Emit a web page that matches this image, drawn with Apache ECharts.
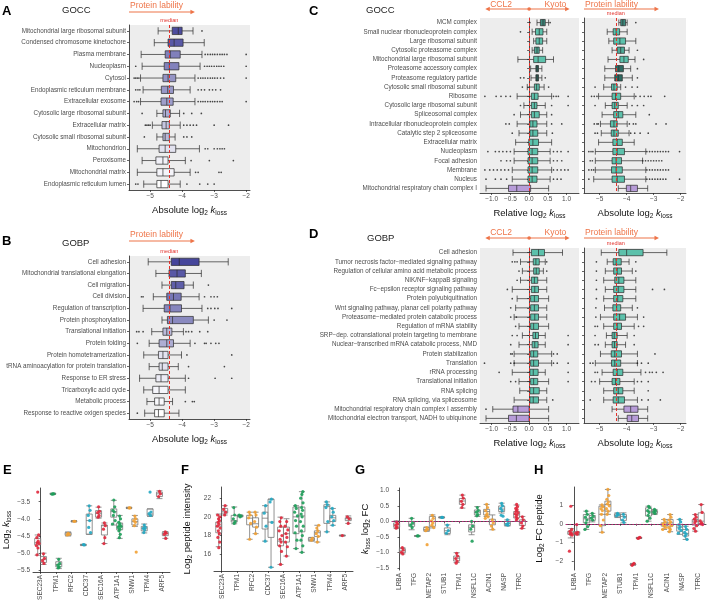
<!DOCTYPE html>
<html><head><meta charset="utf-8">
<script src="https://cdn.jsdelivr.net/npm/echarts/dist/echarts.min.js"></script>
<style>html,body{margin:0;padding:0;background:#fff}#c{width:708px;height:605px}</style>
</head><body><div id="c"></div>
<script>
// ---------------- DATA ----------------
const A_cats = ['Mitochondrial large ribosomal subunit','Condensed chromosome kinetochore','Plasma membrane','Nucleoplasm','Cytosol','Endoplasmic reticulum membrane','Extracellular exosome','Cytosolic large ribosomal subunit','Extracellular matrix','Cytosolic small ribosomal subunit','Mitochondrion','Peroxisome','Mitochondrial matrix','Endoplasmic reticulum lumen'];
const A_box = [[-4.75,-4.31,-4.12,-4.0,-3.66],[-4.87,-4.44,-4.25,-3.97,-3.31],[-5.28,-4.53,-4.37,-4.06,-3.38],[-5.25,-4.56,-4.4,-4.1,-3.44],[-5.3,-4.6,-4.44,-4.2,-3.6],[-5.22,-4.65,-4.45,-4.27,-3.75],[-5.3,-4.66,-4.48,-4.28,-3.6],[-4.79,-4.6,-4.52,-4.37,-4.08],[-4.93,-4.63,-4.5,-4.4,-4.06],[-4.79,-4.6,-4.53,-4.4,-4.22],[-5.4,-4.72,-4.53,-4.2,-3.46],[-5.25,-4.82,-4.6,-4.44,-3.9],[-5.4,-4.79,-4.6,-4.25,-3.75],[-5.2,-4.79,-4.66,-4.44,-4.06]];
const A_out = [[-3.38],[],[-3.28,-3.2,-3.12,-3.05,-2.98,-2.9,-2.82,-2.75,-2.68,-2.6,-2.0],[-5.45,-3.3,-3.22,-3.15,-3.08,-3.0,-2.92,-2.85,-2.78,-2.7,-2.0],[-5.5,-5.45,-5.4,-5.35,-3.5,-3.42,-3.35,-3.28,-3.2,-3.12,-3.05,-2.98,-2.9,-2.8,-2.7,-2.0],[-5.45,-5.38,-5.32,-3.5,-3.4,-3.3,-3.15,-3.05,-2.95,-2.8],[-5.5,-5.42,-5.36,-3.5,-3.42,-3.35,-3.28,-3.2,-3.12,-3.05,-2.98,-2.9,-2.82,-2.75,-2.0],[-5.25,-3.95,-3.7,-3.4],[-5.15,-5.1,-5.05,-5.0,-3.95,-3.85,-3.75,-3.65,-3.55,-3.0,-2.55],[-5.18,-3.95,-3.85,-3.7],[-3.28,-3.2,-3.0,-2.9,-2.82,-2.75,-2.68],[-3.72,-3.15,-2.4],[-3.58,-3.5,-2.85,-2.78],[-5.45,-5.38,-3.85,-3.45,-3.2,-3.0]];

const B_cats = ['Cell adhesion','Mitochondrial translational elongation','Cell migration','Cell division','Regulation of transcription','Protein phosphorylation','Translational initiation','Protein folding','Protein homotetramerization','tRNA aminoacylation for protein translation','Response to ER stress','Tricarboxylic acid cycle','Metabolic process','Response to reactive oxigen species'];
const B_box = [[-5.06,-4.34,-4.09,-3.47,-2.56],[-4.82,-4.41,-4.16,-3.9,-3.4],[-4.63,-4.34,-4.2,-3.94,-3.65],[-4.9,-4.48,-4.27,-4.03,-3.47],[-5.22,-4.56,-4.38,-4.02,-3.38],[-4.63,-4.46,-4.3,-3.65,-3.18],[-4.95,-4.6,-4.48,-4.32,-3.96],[-5.03,-4.72,-4.48,-4.27,-3.75],[-5.2,-4.74,-4.6,-4.44,-4.02],[-5.03,-4.72,-4.62,-4.44,-4.12],[-5.33,-4.82,-4.66,-4.44,-3.9],[-5.2,-4.92,-4.72,-4.44,-3.9],[-5.1,-4.86,-4.72,-4.56,-4.3],[-5.17,-4.86,-4.74,-4.56,-4.1]];
const B_out = [[],[],[-3.18],[-5.27,-5.22,-3.3,-3.1,-3.0,-2.9],[-3.2,-3.1,-2.98,-2.88,-2.45],[-3.0,-2.6],[-5.42,-5.35,-5.22,-3.88,-3.8,-3.7,-3.45,-3.2],[-5.4,-3.6,-3.3,-3.25,-3.1,-2.95,-2.85],[-3.85,-2.45],[-3.8,-2.68],[-3.8,-2.97,-2.45],[],[-3.9,-3.68,-3.62],[-5.4]];

const C_cats = ['MCM complex','Small nuclear ribonucleoprotein complex','Large ribosomal subunit','Cytosolic proteasome complex','Mitochondrial large ribosomal subunit','Proteasome accessory complex','Proteasome regulatory particle','Cytosolic small ribosomal subunit','Ribosome','Cytosolic large ribosomal subunit','Spliceosomal complex','Intracellular ribonucleoprotein complex','Catalytic step 2 spliceosome','Extracellular matrix','Nucleoplasm','Focal adhesion','Membrane','Nucleus','Mitochondrial respiratory chain complex I'];
const C_rel = [[0.21,0.30,0.37,0.43,0.52],[0.08,0.17,0.27,0.37,0.47],[0.12,0.18,0.27,0.36,0.47],[0.08,0.14,0.21,0.27,0.36],[-0.3,0.12,0.24,0.44,0.65],[0.04,0.18,0.21,0.25,0.34],[0.05,0.18,0.21,0.25,0.34],[-0.05,0.14,0.2,0.27,0.4],[-0.32,0.06,0.14,0.24,0.6],[-0.14,0.06,0.14,0.21,0.43],[-0.23,0.06,0.14,0.27,0.47],[-0.32,0.02,0.1,0.21,0.47],[-0.27,0.02,0.1,0.23,0.47],[-0.36,-0.01,0.1,0.25,0.6],[-0.4,-0.03,0.08,0.23,0.56],[-0.4,-0.03,0.08,0.23,0.56],[-0.45,-0.03,0.08,0.23,0.6],[-0.45,-0.03,0.08,0.21,0.56],[-1.15,-0.55,-0.33,0.04,0.52]];
const C_rel_out = [[0.02,0.56],[-0.23],[],[],[],[],[-0.23,-0.14,0.43],[-0.18,0.52],[-1.18,-0.88,-0.75,-0.62,-0.5,0.65,0.72,0.78,1.04],[-0.23,0.6,1.04],[-0.4,0.6],[-0.62,-0.53,0.6,0.87],[-0.45,0.62],[],[-1.1,-0.9,-0.8,-0.7,-0.6,-0.5,0.65,0.75,0.85,1.04],[-0.75,-0.6,-0.5,0.65,0.75,0.87],[-1.18,-1.05,-0.95,-0.85,-0.75,-0.65,-0.55,0.65,0.75,0.85,0.95,1.04],[-1.15,-0.9,-0.75,-0.6,0.65,0.75,0.85],[]];
const C_abs = [[-4.29,-4.22,-4.14,-4.04,-3.98],[-4.72,-4.5,-4.39,-4.26,-3.98],[-4.66,-4.48,-4.25,-4.04,-3.66],[-4.54,-4.35,-4.22,-4.08,-3.91],[-4.69,-4.25,-4.1,-3.94,-3.69],[-4.81,-4.41,-4.29,-4.12,-3.85],[-4.81,-4.44,-4.31,-4.16,-3.79],[-4.85,-4.56,-4.47,-4.35,-4.22],[-5.04,-4.54,-4.41,-4.22,-3.72],[-4.79,-4.54,-4.44,-4.31,-3.98],[-4.91,-4.48,-4.31,-4.14,-3.66],[-4.97,-4.6,-4.47,-4.35,-3.98],[-4.94,-4.57,-4.47,-4.31,-3.91],[-5.04,-4.51,-4.35,-4.16,-3.72],[-5.16,-4.51,-4.35,-4.08,-3.29],[-5.16,-4.54,-4.39,-4.19,-3.41],[-5.16,-4.56,-4.39,-4.16,-3.29],[-5.22,-4.54,-4.35,-4.08,-3.29],[-4.31,-4.01,-3.85,-3.6,-3.22]];
const C_abs_out = [[-3.66],[],[],[-3.6],[-3.37],[-3.6],[-3.6],[-5.17,-4.04,-3.8,-3.6],[-5.3,-5.2,-5.1,-3.66,-3.5,-3.35,-3.2,-3.1,-2.59],[-5.17,-3.8,-3.6,-3.37],[-3.16],[-5.2,-5.1,-5.05,-3.9,-3.75,-3.66,-2.91,-2.54],[-5.17,-5.08,-3.85,-3.7,-3.5,-3.2],[],[-5.4,-5.32,-5.25,-3.25,-3.15,-3.05,-2.95,-2.85,-2.75,-2.65,-2.55,-2.45,-2.04],[-5.35,-5.27,-3.4,-3.3,-3.2,-3.1,-3.0,-2.9,-2.8,-2.7],[-5.4,-5.3,-5.22,-3.25,-3.15,-3.05,-2.95,-2.85,-2.75,-2.65,-2.55,-2.45],[-5.4,-3.25,-3.15,-3.05,-2.95,-2.85,-2.75,-2.65,-2.55,-2.04],[]];

const D_cats = ['Cell adhesion','Tumor necrosis factor\u2212mediated signaling pathway','Regulation of cellular amino acid metabolic process','NIK/NF\u2212kappaB signaling','Fc\u2212epsilon receptor signaling pathway','Protein polyubiquitination','Wnt signaling pathway, planar cell polarity pathway','Proteasome\u2212mediated protein catabolic process','Regulation of mRNA stability','SRP\u2212dep. cotranslational protein targeting to membrane','Nuclear\u2212transcribed mRNA catabolic process, NMD','Protein stabilization','Translation','rRNA processing','Translational initiation','RNA splicing','RNA splicing, via spliceosome','Mitochondrial respiratory chain complex I assembly','Mitochondrial electron transport, NADH to ubiquinone'];
const D_rel = [[-0.43,0.06,0.25,0.41,0.89],[-0.23,0.11,0.18,0.27,0.43],[-0.18,0.12,0.19,0.27,0.38],[-0.23,0.06,0.14,0.23,0.47],[-0.45,0.06,0.15,0.25,0.47],[-0.32,0.04,0.14,0.25,0.52],[-0.36,0.04,0.14,0.25,0.47],[-0.4,0.04,0.15,0.25,0.47],[-0.27,0.04,0.12,0.25,0.52],[-0.18,0.1,0.17,0.25,0.43],[-0.27,0.08,0.15,0.24,0.43],[-0.4,0.04,0.12,0.23,0.6],[-0.4,0.04,0.12,0.25,0.6],[-0.45,0.02,0.11,0.24,0.43],[-0.27,0.04,0.12,0.23,0.52],[-0.25,0.02,0.12,0.27,0.47],[-0.4,0.02,0.11,0.25,0.47],[-0.97,-0.43,-0.3,0.0,0.52],[-1.15,-0.55,-0.34,0.0,0.52]];
const D_rel_out = [[],[-0.45,-0.38,-0.32,0.47],[-0.27,0.47],[-0.32],[-0.58],[-0.45],[-0.49],[-0.49,-0.34],[-0.36],[-0.45,-0.32,1.04],[-0.49,1.04],[-0.49,-0.45,0.65,0.75],[-1.19,-0.49,-0.4,0.65,0.75,1.04],[-0.8,1.04],[-0.49,-0.36,1.04],[],[0.63],[-1.15],[]];
const D_abs = [[-4.94,-4.29,-4.0,-3.39,-2.51],[-4.72,-4.5,-4.39,-4.2,-3.91],[-4.79,-4.48,-4.35,-4.19,-3.79],[-4.85,-4.44,-4.29,-4.1,-3.66],[-4.79,-4.48,-4.31,-4.1,-3.66],[-4.85,-4.48,-4.33,-4.14,-3.66],[-4.82,-4.51,-4.37,-4.22,-3.79],[-4.97,-4.48,-4.26,-4.04,-3.6],[-4.85,-4.48,-4.35,-4.19,-3.72],[-4.75,-4.54,-4.46,-4.35,-3.98],[-4.79,-4.54,-4.45,-4.35,-4.04],[-4.97,-4.57,-4.44,-4.19,-3.6],[-5.16,-4.56,-4.44,-4.22,-3.6],[-4.91,-4.5,-4.35,-4.14,-3.47],[-5.0,-4.54,-4.41,-4.25,-3.72],[-4.85,-4.48,-4.31,-4.14,-3.72],[-4.85,-4.5,-4.31,-4.08,-3.6],[-4.54,-4.1,-3.85,-3.58,-3.22],[-4.31,-3.98,-3.81,-3.56,-3.22]];
const D_abs_out = [[],[-5.12,-3.66],[-5.12,-3.66],[-5.12],[-5.12,-3.04,-2.6],[-5.12],[-5.14,-3.6],[-5.14,-3.37],[-5.17,-5.08,-3.56,-3.37],[-5.17,-3.72],[-5.17,-5.05,-3.72],[-2.95],[-5.35,-5.25,-3.6,-3.45,-3.2],[-5.17,-5.08,-3.3,-3.15,-3.05,-2.9,-2.65],[-5.3,-5.17,-3.6,-3.45,-3.2],[-3.2],[-5.35,-3.44,-3.2,-2.75],[],[]];

const EF_cats = ['SEC23A','TPM1','RFC2','CDC37','SEC16A','ATP1A1','SNW1','TPM4','ARF5'];
const E_left = [[-5.06,-4.76,-4.7,-4.57,-4.47],[-3.29,-3.28,-3.27,-3.26,-3.25],[-4.5,-4.48,-4.44,-4.4,-4.38],[-4.78,-4.77,-4.76,-4.75,-4.74],[-3.98,-3.95,-3.84,-3.76,-3.66],[-4.18,-3.95,-3.79,-3.71,-3.46],[-3.7,-3.69,-3.68,-3.67,-3.66],[-4.41,-4.35,-4.27,-4.22,-4.15],[-3.41,-3.35,-3.27,-3.22,-3.18]];
const E_right = [[-5.33,-5.27,-5.19,-5.1,-5.0],[-5.45,-5.4,-5.33,-5.25,-5.15],[-4.09,-4.08,-4.07,-4.06,-4.05],[-4.45,-4.45,-4.05,-3.86,-3.62],[-4.72,-4.47,-4.2,-4.18,-4.12],[-4.57,-4.32,-4.22,-4.12,-3.9],[-4.22,-4.18,-4.08,-4.0,-3.9],[-3.93,-3.91,-3.86,-3.71,-3.71],[-4.57,-4.49,-4.43,-4.39,-4.37]];
const E_left_pts = [[-3.22,-4.47,-4.55,-4.65,-4.7,-4.72,-4.78,-4.85,-5.05],[-3.27,-3.27,-3.28],[-4.42,-4.45,-4.47],[-4.75,-4.76],[-3.65,-3.78,-3.82,-3.9,-3.95],[-3.45,-3.65,-3.75,-3.8,-3.9,-4.05,-4.15],[-3.68,-3.68],[-4.18,-4.25,-4.28,-4.32,-4.4],[-3.2,-3.27,-3.35]];
const E_right_pts = [[-5.02,-5.15,-5.22,-5.3],[-5.18,-5.3,-5.35,-5.4,-5.43],[-4.07,-4.07],[-3.62,-3.75,-3.9,-4.05,-4.25,-4.4],[-4.12,-4.2,-4.3,-4.55,-4.72],[-3.92,-4.0,-4.1,-4.15,-4.2,-4.22,-4.25,-4.3,-4.35,-4.45,-4.55],[-3.92,-4.0,-4.05,-4.1,-4.2,-4.97],[-3.22,-3.8,-3.85,-3.9],[-4.38,-4.42,-4.45,-4.57]];

const F_left = [[16.8,18.3,19.0,19.44,20.3],[19.26,19.44,19.6,20.16,21.06],[17.6,19.15,19.86,20.16,20.5],[17.4,18.7,19.86,20.5,21.2],[14.9,16.9,17.4,18.9,19.97],[16.6,18.2,20.0,21.06,21.2],[17.4,17.45,17.6,17.75,17.8],[18.4,19.3,21.1,21.3,21.6],[17.95,17.97,18.0,18.03,18.05]];
const F_right = [[20.2,20.4,20.6,20.9,21.2],[20.0,20.05,20.1,20.15,20.2],[18.2,18.9,19.26,19.9,20.5],[14.6,17.8,19.44,21.9,21.9],[15.8,17.3,18.2,18.9,19.8],[16.2,18.4,20.1,21.06,22.7],[17.3,17.9,18.3,18.5,19.1],[19.1,19.5,19.9,20.16,20.9],[19.3,19.6,19.8,19.9,20.1]];
const F_left_pts = [[16.7,17.3,17.8,18.2,18.5,18.8,19.0,19.2,19.4,19.6,19.8,20.0,20.2],[19.3,19.5,19.8,20.2,21.0],[17.6,19.3,19.9,20.2,20.5],[17.4,19.0,20.4,21.2],[14.9,16.3,16.9,17.3,17.6,18.0,18.5,19.0,19.5,19.9],[16.6,17.5,18.3,19.0,19.6,20.1,20.5,20.9,21.2],[17.5,17.7],[18.4,19.5,21.0,21.3,21.6],[18.0]];
const F_right_pts = [[20.2,20.5,20.8,21.2],[20.0,20.1,20.2],[18.2,18.9,19.5,20.2,20.5],[14.6,19.4,21.6,21.9],[15.8,16.8,17.3,17.8,18.2,18.6,19.0,19.5],[16.2,16.9,17.5,18.0,18.5,19.0,19.5,20.0,20.3,20.7,21.0,21.5,22.0,22.4,22.7],[17.3,17.9,18.2,18.5,18.8,19.1],[19.1,19.6,20.0,20.5,20.9],[19.3,19.8,20.0]];

const GH_cats = ['LRBA','TFG','METAP2','STUB1','TPM1','NSFL1C','ACIN1','NASP','TFRC'];
const G_left = [[-0.23,-0.19,-0.11,-0.05,0.02],[-0.27,-0.16,-0.09,0.0,0.1],[-0.32,-0.3,-0.26,-0.2,-0.18],[0.11,0.12,0.13,0.14,0.15],[-1.33,-1.28,-1.19,-1.12,-1.01],[-0.43,-0.34,-0.19,-0.11,0.0],[0.16,0.21,0.32,0.39,0.55],[0.27,0.32,0.4,0.5,0.59],[0.0,0.11,0.23,0.32,0.53]];
const G_right = [[-1.05,-1.01,-0.95,-0.88,-0.85],[-0.48,-0.475,-0.47,-0.465,-0.46],[-0.21,-0.16,0.0,0.16,0.21],[-0.43,-0.39,-0.3,-0.21,-0.11],[0.43,0.55,0.66,0.74,0.85],[0.16,0.21,0.3,0.37,0.48],[-0.27,-0.11,0.0,0.07,0.21],[-0.15,-0.13,-0.07,0.0,0.05],[-0.23,-0.13,0.0,0.05,0.16]];
const G_left_pts = [[-0.02,-0.08,-0.13,-0.18,-0.22],[0.1,-0.05,-0.12,-0.2],[-0.2,-0.25,-0.3,-0.75],[0.13,0.13],[-1.03,-1.12,-1.2,-1.28,-1.35],[0.0,-0.15,-0.25,-0.64],[0.55,0.45,0.35,0.25,0.2,0.15,0.1],[0.58,0.5,0.42,0.35,0.2,0.17],[0.55,0.48,0.42,0.38,0.33,0.28,0.25,0.2,0.15,0.1,0.05]];
const G_right_pts = [[-0.85,-0.92,-1.0,-1.05],[-0.47,-0.47],[0.2,0.1,0.02,-0.05,-0.12,-0.2],[-0.12,-0.3,-0.38],[0.85,0.75,0.65,0.55,0.45],[0.45,0.35,0.3,0.22,0.18],[0.05,-0.05,-0.15,-0.25],[0.05,-0.05,-0.1,-0.12],[0.15,0.05,-0.05,-0.15,-0.22]];

const H_left = [[-0.75,-0.56,-0.49,-0.39,-0.25],[-0.3,0.05,0.26,0.49,0.67],[-0.45,-0.1,0.5,0.93,1.0],[0.33,0.37,0.46,0.53,0.58],[-2.2,-2.17,-2.15,-2.13,-2.1],[0.14,0.41,0.67,0.85,0.93],[-0.3,-0.12,-0.04,0.05,0.23],[-0.56,-0.39,-0.18,-0.04,0.23],[-0.39,-0.07,0.14,0.23,0.49]];
const H_right = [[-0.6,-0.56,-0.49,-0.42,-0.04],[0.1,0.18,0.32,0.44,0.55],[0.5,0.67,1.02,1.2,1.82],[0.05,0.18,0.39,0.49,0.58],[-0.78,-0.77,-0.75,-0.73,-0.72],[0.49,0.55,0.63,0.7,0.76],[-0.42,-0.12,0.05,0.23,0.49],[-0.83,-0.65,-0.51,-0.3,-0.13],[-0.04,0.0,0.14,0.58,1.02]];
const H_left_pts = [[0.93,-0.3,-0.4,-0.5,-0.55,-0.6,-1.45],[0.67,0.5,0.35,0.2,0.05,-0.15,-0.3],[1.0,0.9,0.8,0.7,0.5,0.2,-0.1,-0.45],[0.55,0.48,0.42],[-2.15,-2.1,-2.2],[0.93,0.85,0.7,0.6,0.45,0.3,0.14],[0.23,0.1,0.0,-0.05,-0.1,-0.2,-0.3],[0.23,0.1,-0.05,-0.15,-0.25,-0.35,-0.5],[0.49,0.35,0.25,0.15,0.05,-0.1,-0.25,-0.39]];
const H_right_pts = [[-0.04,-0.45,-0.5,-0.55],[0.55,0.4,0.3,0.2],[1.82,1.5,1.3,1.15,1.05,0.95,0.8,0.67,0.5],[0.5,0.35,0.2,0.08],[-0.75,-0.72,-0.78],[0.76,0.68,0.62,0.55],[0.49,0.35,0.2,0.1,0.0,-0.1,-0.2,-0.3,-0.42],[-0.15,-0.3,-0.45,-0.55,-0.65,-0.83],[1.02,0.6,0.15,0.05,0.0,-0.04]];

const medianAbs = -4.4;
const medianRel = 0;

// ---------------- STYLE ----------------
const FONT = '"Liberation Sans", Arial, Helvetica, sans-serif';
const TXT = '#4D4D4D';
const ACC = '#EE7448';
const MEDC = '#E2322C';
const PANEL_BG = '#EDEDED';
const RED='#E0283C', GREEN='#1E9E5A', ORANGE='#F2A134', TEAL='#22A7C2';
const PT_COLORS = [RED, GREEN, ORANGE, TEAL, RED, GREEN, ORANGE, TEAL, RED];
const A_shade = [0.92,0.85,0.65,0.64,0.55,0.53,0.5,0.42,0.3,0.36,0.15,0.07,0.05,0];
const B_shade = [0.95,0.85,0.82,0.7,0.62,0.6,0.35,0.42,0.15,0.15,0.1,0.05,0.03,0];
const TEAL_F = '#5CC1AB', TEAL_D = '#3D8B7E', TEAL_DD = '#2E6B62', PURP = '#B79CD8';
const C_fill = [TEAL_D,TEAL_F,TEAL_F,'#4FAA97',TEAL_F,TEAL_DD,TEAL_DD,TEAL_F,TEAL_F,TEAL_F,TEAL_F,TEAL_F,TEAL_F,TEAL_F,TEAL_F,TEAL_F,TEAL_F,TEAL_F,PURP];
const D_fill = D_cats.map((c,i)=> i>=17 ? PURP : TEAL_F);

function mix(t){ const d=[60,60,150]; const c=d.map(v=>Math.round(255+(v-255)*t)); return 'rgb('+c.join(',')+')'; }
const minus = s => String(s).replace('-', '\u2212');

const grid=[], xAxis=[], yAxis=[], series=[];
const axisNameRich = {
  a:{fontSize:9.5,color:'#111',fontFamily:FONT,lineHeight:13},
  k:{fontSize:9.5,color:'#111',fontFamily:FONT,fontStyle:'italic',lineHeight:13},
  s:{fontSize:6.5,color:'#111',fontFamily:FONT,verticalAlign:'bottom',lineHeight:9}
};

function hPanel(g, cats, boxes, outs, fills, xr, ticks, fmt, showCats, name, medVal, medLabel, bw){
  const gi = grid.length;
  grid.push(Object.assign({show:true, backgroundColor:PANEL_BG, borderWidth:0}, g));
  xAxis.push({type:'value', gridIndex:gi, min:xr[0], max:xr[1], splitLine:{show:false},
    axisLine:{show:true, lineStyle:{color:'#222', width:0.8}},
    axisTick:{show:true, length:2, lineStyle:{color:'#222', width:0.7}, customValues:ticks},
    axisLabel:{customValues:ticks, formatter:fmt, fontSize:6.5, color:TXT, fontFamily:FONT, margin:3},
    name:name, nameLocation:'middle', nameGap:14, nameTextStyle:{rich:axisNameRich}});
  yAxis.push({type:'category', gridIndex:gi, data:cats, inverse:true,
    axisLine:{show:true, lineStyle:{color:'#222', width:0.8}},
    axisTick:{show:true, length:2, alignWithLabel:true, lineStyle:{color:'#222', width:0.7}},
    axisLabel:{show:showCats, fontSize:6.3, color:TXT, fontFamily:FONT, margin:3, interval:0}});
  series.push({type:'boxplot', xAxisIndex:gi, yAxisIndex:gi, boxWidth:[bw,bw], silent:true,
    itemStyle:{borderColor:'#2a2a2a', borderWidth:0.7},
    data: boxes.map((b,i)=>({value:b, itemStyle:{color:fills[i]}})),
    markLine:{silent:true, symbol:'none', animation:false, data:[{xAxis:medVal}],
      lineStyle:{color:MEDC, type:[3,2], width:1},
      label:{show:!!medLabel, formatter:medLabel||'', position:'start', color:MEDC, fontSize:5.5, fontFamily:FONT, distance:2}}});
  const pts=[]; outs.forEach((arr,i)=>arr.forEach(v=>pts.push([v,i])));
  series.push({type:'scatter', xAxisIndex:gi, yAxisIndex:gi, data:pts, symbolSize:1.7, silent:true,
    itemStyle:{color:'#1a1a1a'}});
  return gi;
}

const relTicks=[-1,-0.5,0,0.5,1];
const absTicks=[-5,-4,-3,-2];
const fmtAbs = v => minus(v);
const fmtRel = v => minus(v.toFixed(1));
const nameAbs = '{a|Absolute log}{s|2}{a| }{k|k}{s|loss}';
const nameRel = '{a|Relative log}{s|2}{a| }{k|k}{s|loss}';

const gA = hPanel({left:129, top:25, width:121, height:165}, A_cats, A_box, A_out, A_shade.map(mix), [-5.66,-1.88], absTicks, fmtAbs, true, nameAbs, medianAbs, 'median', '62%');
const gB = hPanel({left:129, top:256, width:121, height:163}, B_cats, B_box, B_out, B_shade.map(mix), [-5.66,-1.88], absTicks, fmtAbs, true, nameAbs, medianAbs, 'median', '62%');
const gC1 = hPanel({left:480, top:18, width:99, height:175}, C_cats, C_rel, C_rel_out, C_fill, [-1.31,1.33], relTicks, fmtRel, true, nameRel, medianRel, null, '68%');
const gC2 = hPanel({left:584, top:18, width:102, height:175}, C_cats, C_abs, C_abs_out, C_fill, [-5.58,-1.8], absTicks, fmtAbs, false, nameAbs, medianAbs, 'median', '68%');
const gD1 = hPanel({left:480, top:248, width:99, height:175}, D_cats, D_rel, D_rel_out, D_fill, [-1.31,1.33], relTicks, fmtRel, true, nameRel, medianRel, null, '68%');
const gD2 = hPanel({left:584, top:248, width:102, height:175}, D_cats, D_abs, D_abs_out, D_fill, [-5.58,-1.8], absTicks, fmtAbs, false, nameAbs, medianAbs, 'median', '68%');

// vertical dot+box panels
const JIT = [0,0.06,-0.06,0.03,-0.03,0.09,-0.09,0.015,-0.045,0.045,-0.015,0.075,-0.075,0.0,0.06];
function vPanel(g, cats, L, R, Lp, Rp, yr, ticks, fmt, name, zeroLine){
  const gi = grid.length;
  grid.push(Object.assign({show:false}, g));
  const xc = xAxis.length;
  xAxis.push({type:'category', gridIndex:gi, data:cats,
    axisLine:{show:true, lineStyle:{color:'#222', width:0.8}},
    axisTick:{show:true, length:2, alignWithLabel:true, lineStyle:{color:'#222', width:0.7}},
    axisLabel:{rotate:90, interval:0, fontSize:6.5, color:TXT, fontFamily:FONT, margin:3}});
  const xv = xAxis.length;
  xAxis.push({type:'value', gridIndex:gi, min:-0.5, max:cats.length-0.5, show:false});
  const yi = yAxis.length;
  yAxis.push({type:'value', gridIndex:gi, min:yr[0], max:yr[1], splitLine:{show:false},
    axisLine:{show:true, lineStyle:{color:'#222', width:0.8}},
    axisTick:{show:true, length:2, customValues:ticks, lineStyle:{color:'#222', width:0.7}},
    axisLabel:{customValues:ticks, formatter:fmt, fontSize:6.5, color:TXT, fontFamily:FONT, margin:3},
    name:name, nameLocation:'middle', nameRotate:90, nameGap:20, nameTextStyle:{rich:axisNameRich}});
  [L,R].forEach(B=>series.push({type:'boxplot', xAxisIndex:xc, yAxisIndex:yi, boxWidth:[6,6], silent:true,
    itemStyle:{color:'rgba(255,255,255,0.6)', borderColor:'#777', borderWidth:0.8}, data:B}));
  [[Lp,-0.19],[Rp,0.19]].forEach(([P,off])=>{
    const d=[]; P.forEach((arr,i)=>arr.forEach((v,k)=>d.push({value:[i+off+JIT[k%JIT.length],v], itemStyle:{color:PT_COLORS[i]}})));
    series.push({type:'scatter', xAxisIndex:xv, yAxisIndex:yi, data:d, symbolSize:3.2, silent:true, itemStyle:{opacity:0.9}});
  });
  if(zeroLine){
    series.push({type:'scatter', xAxisIndex:xv, yAxisIndex:yi, data:[], silent:true,
      markLine:{silent:true, symbol:'none', animation:false, data:[{yAxis:0}], label:{show:false},
        lineStyle:{color:'#C8207E', type:[1.5,2], width:1.2}}});
  }
  return {gi, xv};
}
const nE = '{a|Log}{s|2}{a| }{k|k}{s|loss}';
const nF = '{a|Log}{s|2}{a| peptide intensity}';
const nG = '{k|k}{s|loss}{a| log}{s|2}{a| FC}';
const nH = '{a|Log}{s|2}{a| FC peptide}';
vPanel({left:33, top:488, width:137, height:84}, EF_cats, E_left, E_right, E_left_pts, E_right_pts, [-5.55,-3.1], [-5.5,-5,-4.5,-4,-3.5], v=>minus(v.toFixed(1)), nE, false);
vPanel({left:214, top:487, width:139, height:84}, EF_cats, F_left, F_right, F_left_pts, F_right_pts, [14.2,23.2], [16,18,20,22], v=>String(v), nF, false);
vPanel({left:392, top:488, width:135, height:82}, GH_cats, G_left, G_right, G_left_pts, G_right_pts, [-1.57,1.08], [-1.5,-1,-0.5,0,0.5,1], v=>minus(v.toFixed(1)), nG, true);
vPanel({left:566, top:487, width:140, height:83}, GH_cats, H_left, H_right, H_left_pts, H_right_pts, [-2.45,1.95], [-2,-1,0,1], v=>minus(v), nH, true);

const chart = echarts.init(document.getElementById('c'), null, {renderer:'canvas'});
chart.setOption({animation:false, backgroundColor:'#fff', grid, xAxis, yAxis, series});

// ---------------- ANNOTATIONS ----------------
const gr=[];
function txt(x,y,s,o){ gr.push({type:'text', x:x, y:y, silent:true, style:Object.assign({text:s, fill:'#111', fontFamily:FONT, fontSize:9.5, align:'left', verticalAlign:'middle'}, o||{})}); }
function arrow(x1,x2,y,dbl){
  gr.push({type:'line', silent:true, shape:{x1:x1,y1:y,x2:x2-2,y2:y}, style:{stroke:ACC, lineWidth:1.1}});
  gr.push({type:'polygon', silent:true, shape:{points:[[x2,y],[x2-4.5,y-2.3],[x2-4.5,y+2.3]]}, style:{fill:ACC}});
  if(dbl) gr.push({type:'polygon', silent:true, shape:{points:[[x1,y],[x1+4.5,y-2.3],[x1+4.5,y+2.3]]}, style:{fill:ACC}});
}
const px = (xi,v)=>chart.convertToPixel({xAxisIndex:xi}, v);
function lability(xi, yText, yArrow, a0, a1){
  const x0 = px(xi,a0);
  txt(x0+1, yText, 'Protein lability', {fill:ACC, fontSize:8.5});
  arrow(x0, px(xi,a1), yArrow, false);
}
function ccl(xi, yText, yArrow){
  const l = px(xi,-1.17), r = px(xi,1.08), z = px(xi,0);
  txt(px(xi,-0.75), yText, 'CCL2', {fill:ACC, fontSize:8.5, align:'center'});
  txt(px(xi,0.7), yText, 'Kyoto', {fill:ACC, fontSize:8.5, align:'center'});
  gr.push({type:'line', silent:true, shape:{x1:l+2,y1:yArrow,x2:r-2,y2:yArrow}, style:{stroke:ACC, lineWidth:1.1}});
  gr.push({type:'polygon', silent:true, shape:{points:[[r,yArrow],[r-4.5,yArrow-2.3],[r-4.5,yArrow+2.3]]}, style:{fill:ACC}});
  gr.push({type:'polygon', silent:true, shape:{points:[[l,yArrow],[l+4.5,yArrow-2.3],[l+4.5,yArrow+2.3]]}, style:{fill:ACC}});
  gr.push({type:'circle', silent:true, shape:{cx:z, cy:yArrow, r:1.8}, style:{fill:ACC}});
}
lability(gA, 6, 12, -5.66, -3.6);
lability(gB, 235, 241, -5.66, -3.6);
ccl(gC1, 5, 9);
lability(gC2, 5, 9, -5.58, -2.8);
ccl(gD1, 233, 238);
lability(gD2, 233, 238, -5.58, -2.8);

txt(2, 11, 'A', {fontSize:13, fontWeight:'bold', fill:'#000'});
txt(62, 10, 'GOCC', {fontSize:9.5, fill:'#222'});
txt(2, 241, 'B', {fontSize:13, fontWeight:'bold', fill:'#000'});
txt(62, 243, 'GOBP', {fontSize:9.5, fill:'#222'});
txt(309, 11, 'C', {fontSize:13, fontWeight:'bold', fill:'#000'});
txt(366, 10, 'GOCC', {fontSize:9.5, fill:'#222'});
txt(309, 234, 'D', {fontSize:13, fontWeight:'bold', fill:'#000'});
txt(367, 238, 'GOBP', {fontSize:9.5, fill:'#222'});
txt(3, 470, 'E', {fontSize:13, fontWeight:'bold', fill:'#000'});
txt(181, 470, 'F', {fontSize:13, fontWeight:'bold', fill:'#000'});
txt(355, 470, 'G', {fontSize:13, fontWeight:'bold', fill:'#000'});
txt(534, 470, 'H', {fontSize:13, fontWeight:'bold', fill:'#000'});

chart.setOption({graphic: gr});
</script></body></html>
